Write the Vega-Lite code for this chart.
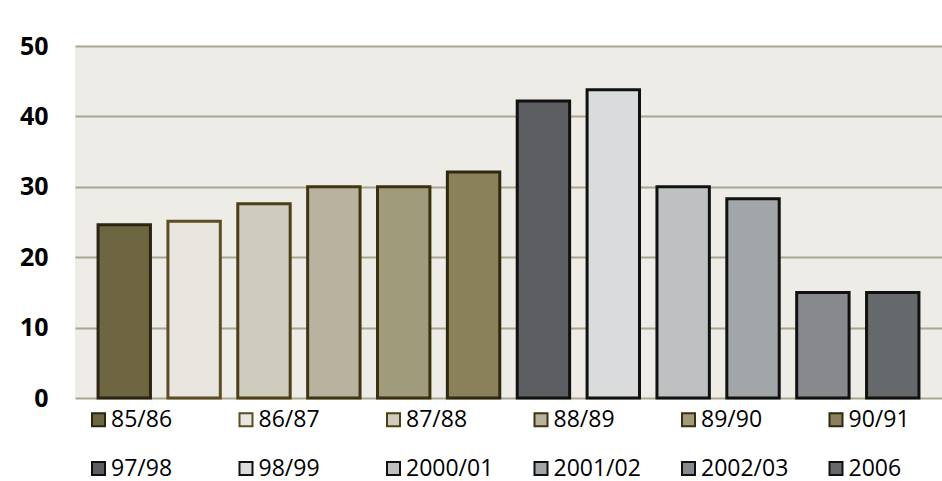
{
  "$schema": "https://vega.github.io/schema/vega-lite/v6.json",
  "autosize": "none",
  "width": 867,
  "height": 352,
  "padding": {"left": 75, "top": 46, "right": 0, "bottom": 83},
  "background": "#ffffff",
  "config": {
    "view": {"fill": "#eeece7", "stroke": null},
    "font": "Open Sans"
  },
  "data": {
    "values": [
      {"year": "85/86", "value": 24.6},
      {"year": "86/87", "value": 25.1},
      {"year": "87/88", "value": 27.6},
      {"year": "88/89", "value": 30.0},
      {"year": "89/90", "value": 30.0},
      {"year": "90/91", "value": 32.1},
      {"year": "97/98", "value": 42.2},
      {"year": "98/99", "value": 43.8},
      {"year": "2000/01", "value": 30.0},
      {"year": "2001/02", "value": 28.3},
      {"year": "2002/03", "value": 15.0},
      {"year": "2006", "value": 15.0}
    ]
  },
  "mark": {"type": "bar", "strokeWidth": 3, "opacity": 1},
  "encoding": {
    "x": {
      "field": "year",
      "type": "nominal",
      "sort": null,
      "scale": {"paddingInner": 0.25, "paddingOuter": 0.33},
      "axis": null
    },
    "y": {
      "field": "value",
      "type": "quantitative",
      "scale": {"domain": [0, 50], "nice": false},
      "axis": {
        "title": null,
        "values": [0, 10, 20, 30, 40, 50],
        "domain": false,
        "ticks": false,
        "tickSize": 0,
        "labelPadding": 27,
        "labelFont": "Open Sans",
        "labelFontWeight": "bold",
        "labelFontSize": 25,
        "labelColor": "#000000",
        "gridColor": "#aaa68e",
        "gridWidth": 2,
        "gridOpacity": 1
      }
    },
    "color": {
      "field": "year",
      "type": "nominal",
      "sort": null,
      "scale": {
        "domain": ["85/86", "86/87", "87/88", "88/89", "89/90", "90/91", "97/98", "98/99", "2000/01", "2001/02", "2002/03", "2006"],
        "range": ["#6e6640", "#e8e6df", "#cfccbd", "#b8b29e", "#a09b7b", "#8a805a", "#5d5e62", "#dadbdd", "#bfc0c2", "#a3a6a8", "#87898c", "#66696b"]
      },
      "legend": {
        "title": null,
        "orient": "none",
        "legendX": 12,
        "legendY": 362,
        "direction": "horizontal",
        "columns": 6,
        "gridAlign": "all",
        "columnPadding": 35.5,
        "rowPadding": 25,
        "padding": 0,
        "symbolType": "square",
        "symbolSize": 169,
        "symbolStrokeWidth": 2,
        "symbolOpacity": 1,
        "labelOffset": 1,
        "labelFont": "Open Sans",
        "labelFontSize": 23,
        "labelColor": "#000000",
        "labelLimit": 200
      }
    },
    "stroke": {
      "field": "year",
      "type": "nominal",
      "sort": null,
      "scale": {
        "domain": ["85/86", "86/87", "87/88", "88/89", "89/90", "90/91", "97/98", "98/99", "2000/01", "2001/02", "2002/03", "2006"],
        "range": ["#2b2410", "#5a4e22", "#4b3f15", "#3f3510", "#3a3010", "#2f2810", "#111111", "#111111", "#111111", "#111111", "#111111", "#111111"]
      },
      "legend": {
        "title": null,
        "orient": "none",
        "legendX": 12,
        "legendY": 362,
        "direction": "horizontal",
        "columns": 6,
        "gridAlign": "all",
        "columnPadding": 35.5,
        "rowPadding": 25,
        "padding": 0,
        "symbolType": "square",
        "symbolSize": 169,
        "symbolStrokeWidth": 2,
        "symbolOpacity": 1,
        "labelOffset": 1,
        "labelFont": "Open Sans",
        "labelFontSize": 23,
        "labelColor": "#000000",
        "labelLimit": 200
      }
    }
  }
}
